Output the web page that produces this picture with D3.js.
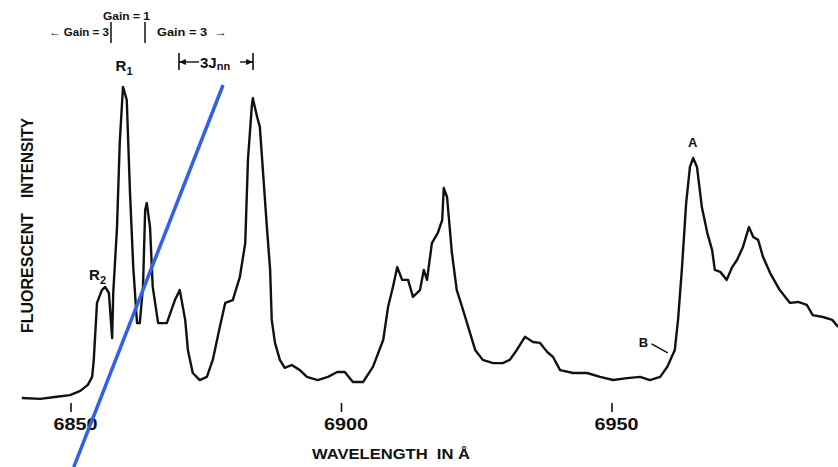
<!DOCTYPE html>
<html>
<head>
<meta charset="utf-8">
<script src="https://cdn.jsdelivr.net/npm/d3@7"></script>
<style>
  body { margin: 0; background: #fff; }
  svg { display: block; }
  .lbl { font-family: "Liberation Sans", Arial, sans-serif; fill: #111; font-weight: bold; }
</style>
</head>
<body>
<svg id="chart"></svg>
<script>
// wavelength (A) and fluorescent intensity (arb. units)
var wavelength = [6841.0, 6844.4, 6847.1, 6849.9, 6851.8, 6853.2, 6854.0, 6854.3, 6854.9, 6855.8,
  6856.4, 6857.1, 6857.7, 6857.9, 6858.6, 6859.1, 6859.7, 6860.4, 6861.0, 6861.6,
  6862.3, 6862.8, 6863.4, 6863.8, 6864.1, 6864.7, 6865.2, 6866.2, 6867.8, 6869.3,
  6870.2, 6871.2, 6871.7, 6872.6, 6873.9, 6875.2, 6876.3, 6877.6, 6878.6, 6880.0,
  6881.3, 6882.3, 6882.8, 6883.5, 6883.7, 6884.5, 6885.0, 6886.3, 6886.9, 6887.2,
  6887.8, 6888.7, 6889.6, 6890.9, 6892.4, 6893.7, 6895.7, 6897.6, 6899.3, 6900.7,
  6902.2, 6904.1, 6905.9, 6907.8, 6908.7, 6909.6, 6910.4, 6911.3, 6912.4, 6913.3,
  6914.6, 6915.3, 6915.9, 6916.8, 6917.9, 6918.7, 6919.0, 6919.6, 6920.5, 6921.4,
  6922.4, 6923.3, 6924.8, 6926.2, 6928.1, 6929.9, 6931.2, 6932.5, 6934.0, 6935.5,
  6936.8, 6938.1, 6939.2, 6940.5, 6942.9, 6945.5, 6947.9, 6950.3, 6952.9, 6955.3,
  6957.1, 6959.0, 6960.3, 6961.7, 6962.3, 6963.0, 6963.8, 6964.5, 6965.1, 6965.8,
  6966.7, 6967.7, 6968.6, 6969.1, 6970.1, 6971.3, 6972.3, 6973.2, 6974.3, 6975.4,
  6976.2, 6977.1, 6978.0, 6979.3, 6981.1, 6983.0, 6984.5, 6986.1, 6987.2, 6989.1,
  6990.8, 6991.9];
var intensity = [2.2, 1.9, 2.5, 3.1, 4.4, 6.3, 8.8, 14.1, 31.9, 35.9,
  36.9, 35.0, 20.9, 35.0, 55.6, 81.9, 99.4, 95.3, 66.3, 43.1,
  25.6, 25.6, 36.9, 60.9, 63.1, 55.6, 36.9, 25.6, 25.6, 32.8,
  35.9, 26.6, 17.2, 10.0, 7.8, 8.8, 14.1, 24.4, 31.9, 32.8,
  40.0, 50.6, 76.6, 93.1, 95.9, 90.0, 86.9, 55.6, 42.2, 26.6,
  19.4, 14.1, 11.6, 12.5, 10.9, 8.8, 7.8, 8.8, 10.3, 10.3,
  7.2, 7.2, 11.9, 20.3, 30.6, 36.9, 43.1, 39.1, 39.1, 33.8,
  35.9, 42.2, 39.1, 50.6, 53.8, 57.8, 67.8, 65.0, 47.5, 35.9,
  30.6, 25.6, 17.2, 14.1, 13.1, 13.1, 14.1, 17.2, 21.3, 19.7,
  19.4, 16.6, 15.0, 10.9, 10.0, 10.0, 8.8, 7.8, 8.4, 8.8,
  7.8, 8.8, 11.9, 17.2, 26.6, 42.2, 63.1, 74.4, 77.2, 74.4,
  61.9, 53.8, 48.4, 42.2, 41.6, 39.1, 43.1, 45.3, 49.4, 55.6,
  52.5, 51.6, 46.3, 41.3, 35.9, 31.9, 32.2, 31.3, 28.1, 27.5,
  26.6, 24.4];

var tickValues = [6850, 6900, 6950];

// peak labels: [text, subscript, wavelength, intensity, font size]
var peakLabels = [
  ["R", "1", 6859.9, 104.5, 15],
  ["R", "2", 6855.0, 39, 15],
  ["A", "", 6965.0, 80.5, 13],
  ["B", "", 6955.9, 18, 13]
];

// leader from B to the curve
var leaderLambda = [6957.4, 6960.4];
var leaderInt = [19.1, 16.3];

// blue overlay stroke, endpoints in data units
var overlayLambda = [6878.2, 6850.6];
var overlayInt = [100, -19.4];

var width = 838, height = 467;
var svg = d3.select("#chart").attr("width", width).attr("height", height);

var x = d3.scaleLinear().domain([6850, 6950]).range([70.5, 611.5]);
var y = d3.scaleLinear().domain([0, 100]).range([405, 85]);

var pts = wavelength.map(function(w, i) { return [w, intensity[i]]; });

var line = d3.line()
  .x(function(d) { return x(d[0]); })
  .y(function(d) { return y(d[1]); });

svg.append("path")
  .datum(pts)
  .attr("d", line)
  .attr("fill", "none")
  .attr("stroke", "#111")
  .attr("stroke-width", 2.4)
  .attr("stroke-linejoin", "round");

// x axis: ticks only, no domain line
var xAxis = d3.axisBottom(x).tickValues(tickValues).tickSize(9).tickPadding(6).tickFormat(d3.format("d"));
var gx = svg.append("g").attr("transform", "translate(0,403)").call(xAxis);
gx.select(".domain").remove();
gx.selectAll(".tick line").attr("stroke", "#111").attr("stroke-width", 1.6);
gx.selectAll(".tick text")
  .attr("class", "lbl")
  .attr("font-size", 17)
  .attr("dx", 4.5)
  .attr("textLength", 44)
  .attr("lengthAdjust", "spacingAndGlyphs")
  .style("font-family", "Liberation Sans, Arial, sans-serif");

svg.append("text").attr("class", "lbl")
  .attr("x", 312).attr("y", 458.5)
  .attr("font-size", 15.5)
  .attr("textLength", 158).attr("lengthAdjust", "spacingAndGlyphs")
  .attr("xml:space", "preserve")
  .text("WAVELENGTH  IN Å");

// y axis title, two words placed along the side
svg.append("text").attr("class", "lbl")
  .attr("transform", "translate(33,333) rotate(-90)")
  .attr("font-size", 16)
  .attr("textLength", 120).attr("lengthAdjust", "spacingAndGlyphs")
  .text("FLUORESCENT");
svg.append("text").attr("class", "lbl")
  .attr("transform", "translate(33,198) rotate(-90)")
  .attr("font-size", 16)
  .attr("textLength", 80).attr("lengthAdjust", "spacingAndGlyphs")
  .text("INTENSITY");

// peak labels
peakLabels.forEach(function(p) {
  var t = svg.append("text").attr("class", "lbl")
    .attr("x", x(p[2])).attr("y", y(p[3]))
    .attr("text-anchor", "middle")
    .attr("font-size", p[4])
    .text(p[0]);
  if (p[1]) {
    t.append("tspan").attr("font-size", 11).attr("dy", 4).text(p[1]);
  }
});
svg.append("line")
  .attr("x1", x(leaderLambda[0])).attr("y1", y(leaderInt[0]))
  .attr("x2", x(leaderLambda[1])).attr("y2", y(leaderInt[1]))
  .attr("stroke", "#111").attr("stroke-width", 1.6);

// gain annotations
var g = svg.append("g").attr("class", "lbl").attr("font-size", 11.5);
g.append("text").attr("x", 103).attr("y", 20).attr("textLength", 47).attr("lengthAdjust", "spacingAndGlyphs").text("Gain = 1");
g.append("text").attr("x", 49).attr("y", 36).attr("textLength", 60).attr("lengthAdjust", "spacingAndGlyphs").text("← Gain = 3");
g.append("text").attr("x", 157).attr("y", 36).attr("textLength", 70).attr("lengthAdjust", "spacingAndGlyphs")
  .attr("xml:space", "preserve").text("Gain = 3  →");
[[111, 22, 43], [145, 22, 43]].forEach(function(b) {
  svg.append("line").attr("x1", b[0]).attr("x2", b[0]).attr("y1", b[1]).attr("y2", b[2])
    .attr("stroke", "#111").attr("stroke-width", 1.5);
});

// 3Jnn bracket
var bx0 = 179, bx1 = 253, by = 62;
var br = svg.append("g").attr("stroke", "#111");
br.append("line").attr("x1", bx0).attr("x2", bx0).attr("y1", by - 9).attr("y2", by + 8).attr("stroke-width", 1.6);
br.append("line").attr("x1", bx1).attr("x2", bx1).attr("y1", by - 9).attr("y2", by + 8).attr("stroke-width", 1.6);
br.append("line").attr("x1", bx0).attr("x2", 199).attr("y1", by).attr("y2", by).attr("stroke-width", 1.4);
br.append("line").attr("x1", 240).attr("x2", bx1).attr("y1", by).attr("y2", by).attr("stroke-width", 1.4);
svg.append("path").attr("d", "M" + bx0 + "," + by + "l7,-3l0,6z").attr("fill", "#111");
svg.append("path").attr("d", "M" + bx1 + "," + by + "l-7,-3l0,6z").attr("fill", "#111");
var jt = svg.append("text").attr("class", "lbl").attr("x", 200).attr("y", by + 5.5).attr("font-size", 15).text("3J");
jt.append("tspan").attr("font-size", 11).attr("dy", 2).text("nn");

// blue overlay stroke
svg.append("line")
  .attr("x1", x(overlayLambda[0])).attr("y1", y(overlayInt[0]))
  .attr("x2", x(overlayLambda[1])).attr("y2", y(overlayInt[1]))
  .attr("stroke", "#3060f0").attr("stroke-width", 3.5);
</script>
</body>
</html>
